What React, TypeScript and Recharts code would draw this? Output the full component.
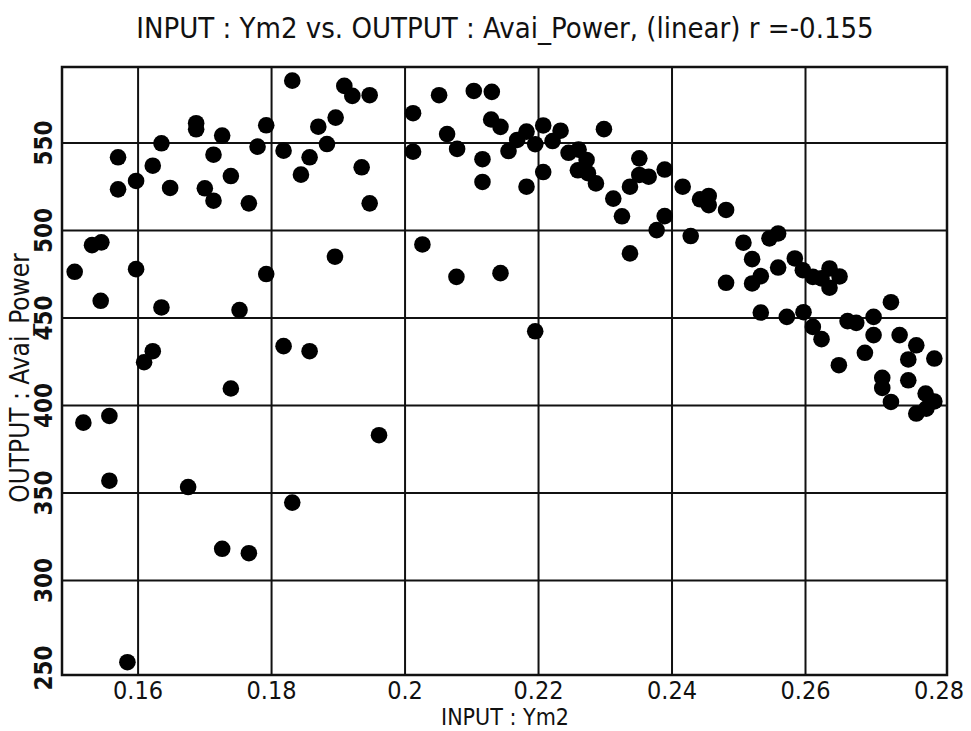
import { ScatterChart, Scatter, XAxis, YAxis, ReferenceLine, ReferenceArea } from 'recharts';

// INPUT : Ym2 (x) values
const ym2 = [
  0.1505, 0.1518, 0.1531, 0.1545, 0.1544, 0.1557, 0.1557, 0.157, 0.157, 0.1584,
  0.1597, 0.1597, 0.1609, 0.1622, 0.1622, 0.1635, 0.1635, 0.1648, 0.1675, 0.1687,
  0.1687, 0.17, 0.1713, 0.1713, 0.1726, 0.1726, 0.1739, 0.1739, 0.1752, 0.1766,
  0.1766, 0.1779, 0.1792, 0.1792, 0.1818, 0.1818, 0.1831, 0.1831, 0.1844, 0.1857,
  0.1857, 0.187, 0.1883, 0.1896, 0.1895, 0.1909, 0.1921, 0.1935, 0.1947, 0.1947,
  0.1961, 0.2012, 0.2012, 0.2026, 0.2051, 0.2063, 0.2077, 0.2078, 0.2103, 0.213,
  0.2129, 0.2143, 0.2143, 0.2116, 0.2116, 0.2155, 0.2168, 0.2182, 0.2195, 0.2207,
  0.2221, 0.2233, 0.2207, 0.2182, 0.2195, 0.2298, 0.2245, 0.226, 0.2272, 0.2259,
  0.2274, 0.2286, 0.2312, 0.2325, 0.2337, 0.2351, 0.2351, 0.2365, 0.2389, 0.2389,
  0.2377, 0.2337, 0.2416, 0.2442, 0.2455, 0.2455, 0.2481, 0.2428, 0.2507, 0.2546,
  0.2559, 0.252, 0.2559, 0.2533, 0.252, 0.2481, 0.2584, 0.2596, 0.2611, 0.2624,
  0.2636, 0.2651, 0.2636, 0.2533, 0.2572, 0.2597, 0.2611, 0.2624, 0.265, 0.2663,
  0.2676, 0.2702, 0.2702, 0.2728, 0.2689, 0.2741, 0.2766, 0.2754, 0.2793, 0.2715,
  0.2715, 0.2754, 0.2728, 0.278, 0.2793, 0.2766, 0.2781,
];

// OUTPUT : Avai_Power (y) values
const availPower = [
  476.4, 390.2, 491.6, 493.2, 459.8, 394, 357, 541.8, 523.5, 253.3,
  528.3, 477.9, 424.7, 431, 537, 549.8, 456, 524.3, 353.4, 561.3,
  557.8, 524.1, 517, 543.3, 554.2, 318.1, 531.1, 409.7, 454.5, 515.5,
  315.6, 547.9, 560.1, 475.1, 545.6, 433.9, 585.6, 344.5, 531.9, 541.8,
  431, 559.3, 549.4, 564.5, 485, 582.6, 576.9, 536.1, 577.3, 515.5,
  383, 567, 545, 492, 577.3, 555.1, 473.5, 546.6, 579.7, 579.2,
  563.4, 559.2, 475.6, 540.7, 527.7, 545.4, 551.7, 556.5, 549.3, 560,
  551.1, 557, 533.4, 525, 442.4, 557.9, 544.4, 546.2, 540.3, 534.4,
  532.7, 526.9, 518.2, 508.1, 525, 541.2, 531.7, 530.7, 534.8, 508.2,
  500.2, 486.9, 525, 517.8, 519.7, 514.5, 511.7, 496.8, 493, 495.5,
  498.3, 483.6, 478.8, 473.9, 469.7, 470.1, 484, 477.3, 473.5, 472.6,
  478.3, 473.7, 467.3, 453.1, 450.6, 453.3, 444.9, 437.9, 423, 448.2,
  447.2, 450.6, 440.2, 459, 430.1, 440.2, 434.4, 426.3, 426.8, 415.8,
  410, 414.4, 402, 406.8, 402.3, 395.4, 398.2,
];

const xTicks = [0.16, 0.18, 0.2, 0.22, 0.24, 0.26, 0.28];
const yTicks = [250, 300, 350, 400, 450, 500, 550];
const xGrid = [0.16, 0.18, 0.2, 0.22, 0.24, 0.26];
const yGrid = [300, 350, 400, 450, 500, 550];
const xDomain = [0.1486, 0.2812];
const yDomain = [246, 593.4];

const points = ym2.map((x, i) => ({ x, y: availPower[i] }));

const condensed = "'DejaVu Sans Condensed', 'DejaVu Sans', sans-serif";

const XTick = ({ x, y, payload }: any) => (
  <text x={x} y={y} dy={24} textAnchor="middle" fontFamily={condensed} fontSize={25} fill="#111">
    {String(payload.value)}
  </text>
);

const YTick = ({ y, payload }: any) => (
  <text
    transform={`translate(43, ${y}) rotate(-90)`}
    dy="0.36em"
    textAnchor="middle"
    fontFamily={condensed}
    fontWeight="bold"
    fontSize={24}
    fill="#111"
  >
    {String(payload.value)}
  </text>
);

const Dot = (props: any) => <circle cx={props.cx} cy={props.cy} r={8.3} fill="#000" />;

export default function App() {
  return (
    <div style={{ position: 'absolute', left: 0, top: 0, width: 971, height: 731, background: '#fff', overflow: 'hidden' }}>
      <div
        style={{
          position: 'absolute',
          left: 0,
          top: 12,
          width: 1010,
          textAlign: 'center',
          fontFamily: condensed,
          fontSize: 29,
          color: '#111',
          lineHeight: '32px',
        }}
      >
        INPUT : Ym2 vs. OUTPUT : Avai_Power, (linear) r =-0.155
      </div>
      <ScatterChart width={971} height={731} margin={{ top: 67, right: 24, bottom: 0, left: 0 }}>
        <XAxis
          type="number"
          dataKey="x"
          domain={xDomain}
          ticks={xTicks}
          allowDataOverflow
          height={56}
          tickSize={0}
          tickMargin={0}
          tickLine={false}
          axisLine={false}
          tick={<XTick />}
          interval={0}
        />
        <YAxis
          type="number"
          dataKey="y"
          domain={yDomain}
          ticks={yTicks}
          allowDataOverflow
          width={62}
          tickSize={0}
          tickMargin={0}
          tickLine={false}
          axisLine={false}
          tick={<YTick />}
          interval={0}
        />
        {xGrid.map((v) => (
          <ReferenceLine key={'x' + v} x={v} stroke="#111" strokeWidth={2} />
        ))}
        {yGrid.map((v) => (
          <ReferenceLine key={'y' + v} y={v} stroke="#111" strokeWidth={2} />
        ))}
        <ReferenceArea
          x1={xDomain[0]}
          x2={xDomain[1]}
          y1={yDomain[0]}
          y2={yDomain[1]}
          fill="none"
          fillOpacity={0}
          stroke="#111"
          strokeWidth={2.5}
        />
        <Scatter data={points} shape={<Dot />} isAnimationActive={false} />
      </ScatterChart>
      <div
        style={{
          position: 'absolute',
          left: 0,
          top: 705,
          width: 1010,
          textAlign: 'center',
          fontFamily: condensed,
          fontSize: 23,
          color: '#111',
          lineHeight: '24px',
        }}
      >
        INPUT : Ym2
      </div>
      <div
        style={{
          position: 'absolute',
          left: 20 - 200,
          top: 378 - 14,
          width: 400,
          textAlign: 'center',
          fontFamily: condensed,
          fontSize: 26,
          color: '#111',
          lineHeight: '28px',
          transform: 'rotate(-90deg)',
          transformOrigin: '50% 50%',
        }}
      >
        OUTPUT : Avai_Power
      </div>
    </div>
  );
}
